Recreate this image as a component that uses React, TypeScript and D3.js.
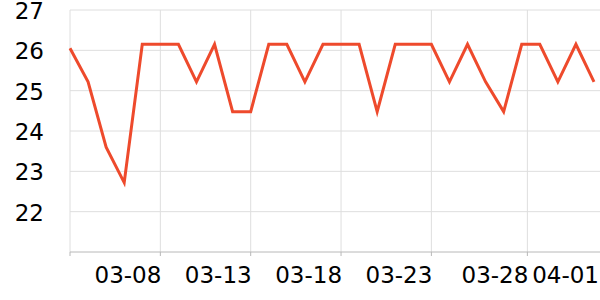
import React from "react";
import * as d3 from "d3";

const dates = [
  "2024-03-03","2024-03-04","2024-03-05","2024-03-06","2024-03-07","2024-03-08",
  "2024-03-09","2024-03-10","2024-03-11","2024-03-12","2024-03-13","2024-03-14",
  "2024-03-15","2024-03-16","2024-03-17","2024-03-18","2024-03-19","2024-03-20",
  "2024-03-21","2024-03-22","2024-03-23","2024-03-24","2024-03-25","2024-03-26",
  "2024-03-27","2024-03-28","2024-03-29","2024-03-30","2024-03-31","2024-04-01",
];
const values = [
  26.05, 25.22, 23.6, 22.72, 26.15, 26.15,
  26.15, 25.22, 26.15, 24.48, 24.48, 26.15,
  26.15, 25.22, 26.15, 26.15, 26.15, 24.48,
  26.15, 26.15, 26.15, 25.22, 26.15, 25.22,
  24.48, 26.15, 26.15, 25.22, 26.15, 25.22,
];
const xTicks = [
  "2024-03-03T00:00","2024-03-08T00:00","2024-03-13T00:00","2024-03-18T00:00",
  "2024-03-23T00:00","2024-03-28T07:30",
];
const xTickLabels = ["", "03-08", "03-13", "03-18", "03-23", "03-28"];
const endLabel = "04-01";
const yTicks = [22, 23, 24, 25, 26, 27];
const yDomain = [21, 27];

const W = 600, H = 300;
const left = 70, right = 594, top = 10, bottom = 252;
const font = "DejaVu Sans, sans-serif";

export default function App() {
  const parse = (s: string) => new Date(s);
  const x = d3.scaleTime()
    .domain([parse(dates[0] + "T00:00"), parse(dates[dates.length - 1] + "T00:00")])
    .range([left, right]);
  const y = d3.scaleLinear().domain(yDomain).range([bottom, top]);
  const line = d3.line<number>()
    .x((_, i) => x(parse(dates[i] + "T00:00")))
    .y((v) => y(v));

  return (
    <svg width={W} height={H} style={{ position: "absolute", left: 0, top: 0, background: "#fff" }}>
      {yTicks.map((t) => (
        <line key={"gy" + t} x1={left} x2={W} y1={y(t)} y2={y(t)} stroke="#dedede" strokeWidth={1} />
      ))}
      {xTicks.map((t, i) => (
        <line key={"gx" + i} x1={x(parse(t))} x2={x(parse(t))} y1={top} y2={bottom} stroke="#dedede" strokeWidth={1} />
      ))}
      <line x1={left} x2={W} y1={bottom} y2={bottom} stroke="#b8b8b8" strokeWidth={1} />
      {xTicks.map((t, i) => (
        <line key={"tx" + i} x1={x(parse(t))} x2={x(parse(t))} y1={bottom} y2={bottom + 4} stroke="#b8b8b8" strokeWidth={1} />
      ))}
      {yTicks.map((t) => (
        <text key={"ly" + t} x={44} y={y(t) + 1} textAnchor="end" dominantBaseline="central"
          fontFamily={font} fontSize={23} fill="#000">{t}</text>
      ))}
      {xTicks.map((t, i) => (
        <text key={"lx" + i} x={x(parse(t)) + 1} y={283} textAnchor="end"
          fontFamily={font} fontSize={23} fill="#000">{xTickLabels[i]}</text>
      ))}
      <text x={599} y={283} textAnchor="end" fontFamily={font} fontSize={23} fill="#000">{endLabel}</text>
      <path d={line(values) || ""} fill="none" stroke="#ee4a2c" strokeWidth={3} strokeLinejoin="miter" />
    </svg>
  );
}
